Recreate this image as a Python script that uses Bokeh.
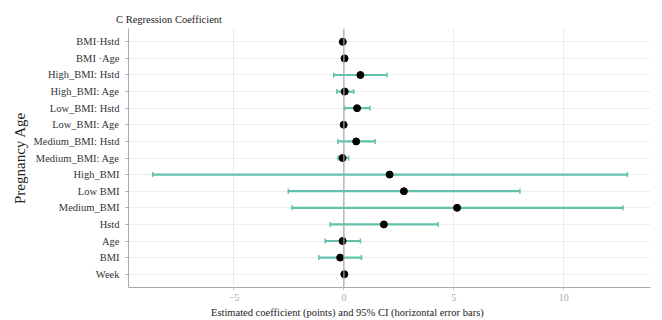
from bokeh.plotting import figure
from bokeh.models import Range1d, FactorRange, SingleIntervalTicker, Span, Title, ColumnDataSource
from bokeh.embed import file_html
from bokeh.resources import INLINE
import math

terms = ["BMI·Hstd", "BMI ·Age", "High_BMI: Hstd", "High_BMI: Age", "Low_BMI: Hstd",
         "Low_BMI: Age", "Medium_BMI: Hstd", "Medium_BMI: Age", "High_BMI", "Low BMI",
         "Medium_BMI", "Hstd", "Age", "BMI", "Week"]
estimate = [-0.05, 0.03, 0.75, 0.04, 0.60, -0.01, 0.56, -0.06, 2.08, 2.73, 5.15, 1.82, -0.06, -0.17, 0.02]
ci_low = [-0.08, 0.00, -0.46, -0.32, 0.03, -0.10, -0.27, -0.27, -8.7, -2.53, -2.36, -0.63, -0.85, -1.14, -0.02]
ci_high = [-0.02, 0.06, 1.96, 0.45, 1.19, 0.08, 1.42, 0.21, 12.9, 8.01, 12.7, 4.29, 0.75, 0.80, 0.06]
x_ticks_interval = 5
x_title = "Estimated coefficient (points) and 95% CI (horizontal error bars)"

FONT = "Liberation Serif"
TEAL = "#62c1ad"

src = ColumnDataSource(dict(term=terms, est=estimate, lo=ci_low, hi=ci_high))

p = figure(width=660, height=318, output_backend="svg", toolbar_location=None,
           x_range=Range1d(-9.8, 13.95),
           y_range=FactorRange(factors=list(reversed(terms)), range_padding=0.3,
                               range_padding_units="absolute"),
           min_border_left=128, min_border_right=10, min_border_top=28, min_border_bottom=31)

p.title.text = "C Regression Coefficient"
p.title.text_font = FONT
p.title.text_font_size = "10.5px"
p.title.text_font_style = "normal"
p.title.text_color = "#222222"
p.title.align = "left"
p.title.offset = -12.5
p.title.standoff = 8

p.outline_line_color = None
p.background_fill_color = "white"
p.border_fill_color = "white"

p.xgrid.grid_line_color = "#ebebeb"
p.ygrid.grid_line_color = "#ededed"
p.xaxis.ticker = SingleIntervalTicker(interval=x_ticks_interval)

p.add_layout(Span(location=0, dimension="height", line_color="#a8a8a8", line_width=1.2))

p.segment(x0="lo", y0="term", x1="hi", y1="term", source=src, line_color=TEAL, line_width=2.2)
p.dash(x="lo", y="term", angle=math.pi / 2, size=5, source=src, line_color=TEAL, line_width=1.5)
p.dash(x="hi", y="term", angle=math.pi / 2, size=5, source=src, line_color=TEAL, line_width=1.5)
p.scatter(x="est", y="term", source=src, size=7, color="black")

p.yaxis.axis_label = "Pregnancy Age"
p.yaxis.axis_label_text_font = FONT
p.yaxis.axis_label_text_font_style = "normal"
p.yaxis.axis_label_text_font_size = "15px"
p.yaxis.axis_label_text_color = "#222222"
p.yaxis.axis_label_standoff = 2
p.yaxis.major_label_text_font = FONT
p.yaxis.major_label_text_font_size = "10.5px"
p.yaxis.major_label_text_color = "#333333"
p.yaxis.axis_line_color = "#aaaaaa"
p.yaxis.major_tick_line_color = "#aaaaaa"
p.yaxis.major_tick_out = 3
p.yaxis.major_tick_in = 0
p.yaxis.major_label_standoff = 6

p.xaxis.major_label_text_font = FONT
p.xaxis.major_label_text_font_size = "10px"
p.xaxis.major_label_text_color = "#aaaaaa"
p.xaxis.axis_line_color = "#aaaaaa"
p.xaxis.major_tick_line_color = "#cccccc"
p.xaxis.major_tick_out = 3
p.xaxis.major_tick_in = 0
p.xaxis.minor_tick_line_color = None
p.xaxis.major_label_standoff = 2

p.add_layout(Title(text=x_title, text_font=FONT, text_font_size="10.5px",
                   text_font_style="normal", text_color="#222222",
                   align="left", offset=82.5, standoff=2), "below")

open("out.html", "w").write(file_html(p, INLINE))
